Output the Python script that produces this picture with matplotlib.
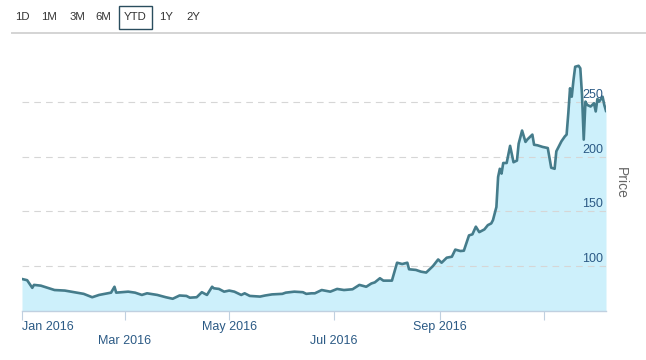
import matplotlib
matplotlib.use("Agg")
import matplotlib.pyplot as plt
import matplotlib.dates as mdates
from matplotlib.patches import Rectangle
from matplotlib.lines import Line2D
from matplotlib.transforms import ScaledTranslation
import pandas as pd

# ---- data ----
dates = [
    "2016-01-01", "2016-01-04", "2016-01-07", "2016-01-08", "2016-01-12", "2016-01-16",
    "2016-01-20", "2016-01-26", "2016-02-02", "2016-02-06", "2016-02-11", "2016-02-15",
    "2016-02-20", "2016-02-22", "2016-02-24", "2016-02-25", "2016-03-03", "2016-03-07",
    "2016-03-11", "2016-03-14", "2016-03-20", "2016-03-25", "2016-03-29", "2016-04-02",
    "2016-04-06", "2016-04-08", "2016-04-12", "2016-04-15", "2016-04-18", "2016-04-21",
    "2016-04-22", "2016-04-25", "2016-04-28", "2016-05-01", "2016-05-04", "2016-05-08",
    "2016-05-10", "2016-05-13", "2016-05-19", "2016-05-22", "2016-05-26", "2016-06-01",
    "2016-06-03", "2016-06-08", "2016-06-13", "2016-06-15", "2016-06-18", "2016-06-20",
    "2016-06-24", "2016-06-29", "2016-07-03", "2016-07-07", "2016-07-12", "2016-07-16",
    "2016-07-20", "2016-07-23", "2016-07-25", "2016-07-28", "2016-07-30", "2016-08-04",
    "2016-08-07", "2016-08-10", "2016-08-13", "2016-08-14", "2016-08-18", "2016-08-21",
    "2016-08-24", "2016-08-28", "2016-08-31", "2016-09-02", "2016-09-05", "2016-09-08",
    "2016-09-10", "2016-09-13", "2016-09-15", "2016-09-18", "2016-09-20", "2016-09-22",
    "2016-09-24", "2016-09-27", "2016-09-29", "2016-10-01", "2016-10-02", "2016-10-04",
    "2016-10-05", "2016-10-06", "2016-10-07", "2016-10-08", "2016-10-10", "2016-10-12",
    "2016-10-14", "2016-10-16", "2016-10-17", "2016-10-19", "2016-10-21", "2016-10-22",
    "2016-10-25", "2016-10-26", "2016-10-28", "2016-10-31", "2016-11-03", "2016-11-04",
    "2016-11-05", "2016-11-07", "2016-11-08", "2016-11-09", "2016-11-11", "2016-11-13",
    "2016-11-14", "2016-11-15", "2016-11-16", "2016-11-17", "2016-11-18", "2016-11-19",
    "2016-11-21", "2016-11-22", "2016-11-23", "2016-11-24", "2016-11-25", "2016-11-26",
    "2016-11-28", "2016-11-30", "2016-12-01", "2016-12-02", "2016-12-03", "2016-12-05",
    "2016-12-06", "2016-12-07",
]
prices = [
    88.1, 87.0, 80.0, 82.7, 82.0, 80.0,
    78.0, 77.5, 75.6, 74.5, 71.4, 73.5,
    75.0, 75.6, 81.0, 75.6, 76.5, 75.6,
    73.5, 75.0, 73.5, 71.4, 70.0, 73.0,
    72.6, 71.0, 71.4, 76.0, 73.5, 81.0,
    79.6, 79.0, 76.5, 77.5, 76.5, 73.5,
    75.0, 72.6, 72.0, 73.0, 74.0, 74.5,
    75.6, 76.5, 76.0, 74.5, 75.0, 75.0,
    78.0, 76.5, 79.0, 78.0, 78.7, 82.7,
    81.0, 84.0, 85.0, 88.8, 86.6, 86.6,
    103.0, 101.8, 103.0, 97.0, 96.4, 94.8,
    94.0, 100.0, 106.0, 103.0, 107.6, 108.5,
    115.0, 113.7, 114.0, 128.0, 129.0, 136.0,
    131.0, 133.5, 137.4, 139.0, 142.0, 154.0,
    181.5, 189.0, 184.6, 194.3, 194.3, 210.0,
    195.0, 196.5, 212.0, 224.0, 213.6, 215.7,
    220.3, 211.0, 210.5, 209.0, 208.0, 199.0,
    190.0, 189.0, 205.0, 208.0, 214.2, 218.7,
    220.3, 240.0, 262.7, 255.0, 270.0, 282.4,
    283.3, 281.0, 256.6, 215.7, 250.5, 247.5,
    246.0, 249.0, 241.5, 253.0, 250.5, 255.0,
    247.5, 242.0,
]
x_tick_dates = ["2016-01-01", "2016-03-01", "2016-05-01", "2016-07-01", "2016-09-01", "2016-11-01"]
x_tick_labels = ["Jan 2016", "Mar 2016", "May 2016", "Jul 2016", "Sep 2016", ""]
y_ticks = [100, 150, 200, 250]
buttons = ["1D", "1M", "3M", "6M", "YTD", "1Y", "2Y"]
selected_button = "YTD"

# ---- style ----
W, H = 646, 360
plt.rcParams['font.family'] = ['Liberation Sans', 'DejaVu Sans']
LINE_C = '#457c8b'
FILL_C = '#cdf0fb'
LABEL_C = '#2b5a85'
GRID_C = '#d6d6d6'
AXIS_C = '#c0d0e0'

fig = plt.figure(figsize=(W / 100, H / 100), dpi=100)
left_px, right_px, bottom_px, top_px = 22, 606, 311, 53
ax = fig.add_axes([left_px / W, 1 - bottom_px / H, (right_px - left_px) / W, (bottom_px - top_px) / H])

d = pd.to_datetime(dates)
ymin, ymax = 58.8, 295
ax.fill_between(d, prices, ymin, color=FILL_C, lw=0, zorder=1)
ax.plot(d, prices, color=LINE_C, lw=1.9, solid_joinstyle='round', zorder=3)

ax.set_xlim(d[0], d[-1])
ax.set_ylim(ymin, ymax)

for s in ['top', 'left', 'right']:
    ax.spines[s].set_visible(False)
ax.spines['bottom'].set_color(AXIS_C)
ax.spines['bottom'].set_linewidth(1.0)

ax.set_yticks(y_ticks)
ax.set_yticklabels([])
ax.tick_params(axis='y', length=0)
ax.grid(axis='y', color=GRID_C, lw=0.8, linestyle=(0, (6.0, 4.6)), zorder=2)

xt = pd.to_datetime(x_tick_dates)
ax.set_xticks(xt)
ax.set_xticklabels([])
ax.tick_params(axis='x', direction='out', length=6.5, width=0.8, color=AXIS_C)

# x tick labels in two alternating rows
btrans = ax.get_xaxis_transform()
for i, (t, lab) in enumerate(zip(xt, x_tick_labels)):
    if not lab:
        continue
    row_y = 327 if i % 2 == 0 else 341
    off = ScaledTranslation(0, -(row_y - bottom_px) / 100, fig.dpi_scale_trans)
    ax.text(t, 0, lab, transform=btrans + off, ha='left' if i == 0 else 'center',
            va='center', fontsize=9, color=LABEL_C)

# y labels inside right edge, above gridlines
ytrans = ax.get_yaxis_transform()
for v in y_ticks:
    off = ScaledTranslation(-3 / 100, 7 / 100, fig.dpi_scale_trans)
    ax.text(1, v, str(v), transform=ytrans + off, ha='right', va='center',
            fontsize=9, color=LABEL_C, zorder=4)

fig.text(621 / W, 1 - 183 / H, "Price", rotation=270, ha='center', va='center',
         fontsize=10, color='#666666')

# range selector buttons
btn_x = [22.5, 49, 77, 103, 135, 166, 193]
for bx, b in zip(btn_x, buttons):
    fig.text(bx / W, 1 - 17 / H, b, ha='center', va='center', fontsize=8.2, color='#333333')
    if b == selected_button:
        fig.add_artist(Rectangle((119 / W, 1 - 29 / H), 33 / W, 23 / H, fill=False,
                                 ec='#2a4d5e', lw=1.0, transform=fig.transFigure))

fig.add_artist(Line2D([12 / W, 1], [1 - 33 / H, 1 - 33 / H], color='#d4d4d4', lw=1.4,
                      transform=fig.transFigure))

fig.savefig("out.png", dpi=100)
